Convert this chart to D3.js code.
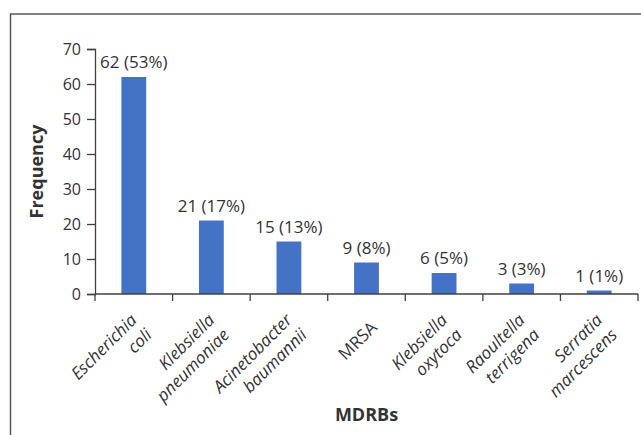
<!DOCTYPE html>
<html>
<head>
<meta charset="utf-8">
<script src="https://cdn.jsdelivr.net/npm/d3@7"></script>
<style>
  body { margin: 0; background: #fff; }
  text { font-family: "Open Sans", "Noto Sans", sans-serif; fill: #333; }
</style>
</head>
<body>
<div id="run"></div>
<script>
var categories = [
    ["Escherichia", "coli"],
    ["Klebsiella", "pneumoniae"],
    ["Acinetobacter", "baumannii"],
    ["MRSA"],
    ["Klebsiella", "oxytoca"],
    ["Raoultella", "terrigena"],
    ["Serratia", "marcescens"]
];
var italicNames = [true, true, true, false, true, true, true];
var counts = [62, 21, 15, 9, 6, 3, 1];
var percents = [53, 17, 13, 8, 5, 3, 1];
var yTicks = [0, 10, 20, 30, 40, 50, 60, 70];

var width = 641,
    height = 435;

var margin = {left: 95, right: 3, top: 49, bottom: 141};

var svg = d3.select("#run").append("svg")
    .attr("width", width)
    .attr("height", height);

// outer frame
svg.append("rect")
    .attr("x", 10.5)
    .attr("y", 14)
    .attr("width", 700)
    .attr("height", 600)
    .style("fill", "none")
    .style("stroke", "#595959")
    .style("stroke-width", 1.5);

var names = categories.map(function(c) { return c.join(" "); });

var x = d3.scaleBand()
    .domain(names)
    .range([margin.left, width - margin.right])
    .paddingInner(0.68)
    .paddingOuter(0.34);

var y = d3.scaleLinear()
    .domain([0, 70])
    .range([height - margin.bottom, margin.top]);

var axisY = y(0);
var step = x.step();

// bars
svg.selectAll(".bar")
    .data(counts)
    .enter().append("rect")
    .attr("class", "bar")
    .attr("x", function(d, i) { return x(names[i]); })
    .attr("y", function(d) { return y(d); })
    .attr("width", x.bandwidth())
    .attr("height", function(d) { return axisY - y(d); })
    .style("fill", "#4472C4");

// y axis
var yAxis = svg.append("g")
    .attr("transform", "translate(" + margin.left + ",0)")
    .call(d3.axisLeft(y).tickValues(yTicks).tickSize(8).tickPadding(6));
yAxis.select(".domain").attr("stroke", "#404040").attr("stroke-width", 1.3);
yAxis.selectAll(".tick line").attr("stroke", "#404040").attr("stroke-width", 1.3);
yAxis.selectAll(".tick text")
    .style("font-family", "'Open Sans', sans-serif")
    .style("font-size", "16px")
    .attr("fill", "#333");

// x axis line + boundary ticks
svg.append("line")
    .attr("x1", margin.left)
    .attr("x2", width - margin.right)
    .attr("y1", axisY)
    .attr("y2", axisY)
    .style("stroke", "#404040")
    .style("stroke-width", 1.3);

svg.selectAll(".xtick")
    .data(d3.range(names.length + 1))
    .enter().append("line")
    .attr("x1", function(i) { return margin.left + i * step; })
    .attr("x2", function(i) { return margin.left + i * step; })
    .attr("y1", axisY)
    .attr("y2", axisY + 7)
    .style("stroke", "#404040")
    .style("stroke-width", 1.3);

// value labels
svg.selectAll(".val")
    .data(counts)
    .enter().append("text")
    .attr("x", function(d, i) { return x(names[i]) + x.bandwidth() / 2; })
    .attr("y", function(d) { return y(d) - 9; })
    .attr("text-anchor", "middle")
    .style("font-size", "17px")
    .text(function(d, i) { return d + " (" + percents[i] + "%)"; });

// rotated category labels, right aligned, block centred on anchor
var lh = 21;
var lab = svg.selectAll(".xlab")
    .data(categories)
    .enter().append("text")
    .attr("text-anchor", "end")
    .style("font-size", "17px")
    .style("font-style", function(d, i) { return italicNames[i] ? "italic" : "normal"; })
    .attr("transform", function(d, i) {
        var cx = x(names[i]) + x.bandwidth() / 2 + 8;
        return "translate(" + cx + "," + (axisY + 31) + ") rotate(-45)";
    });

lab.selectAll("tspan")
    .data(function(d) {
        return d.map(function(t, j) { return {t: t, j: j, n: d.length}; });
    })
    .enter().append("tspan")
    .attr("x", 0)
    .attr("y", function(d) { return (d.j - (d.n - 1) / 2) * lh + 5; })
    .text(function(d) { return d.t; });

// axis titles
svg.append("text")
    .attr("transform", "translate(43," + ((y(0) + y(70)) / 2) + ") rotate(-90)")
    .attr("text-anchor", "middle")
    .style("font-size", "18px")
    .style("font-weight", "bold")
    .text("Frequency");

svg.append("text")
    .attr("x", (margin.left + width - margin.right) / 2)
    .attr("y", 421)
    .attr("text-anchor", "middle")
    .style("font-size", "18px")
    .style("font-weight", "bold")
    .text("MDRBs");
</script>
</body>
</html>
